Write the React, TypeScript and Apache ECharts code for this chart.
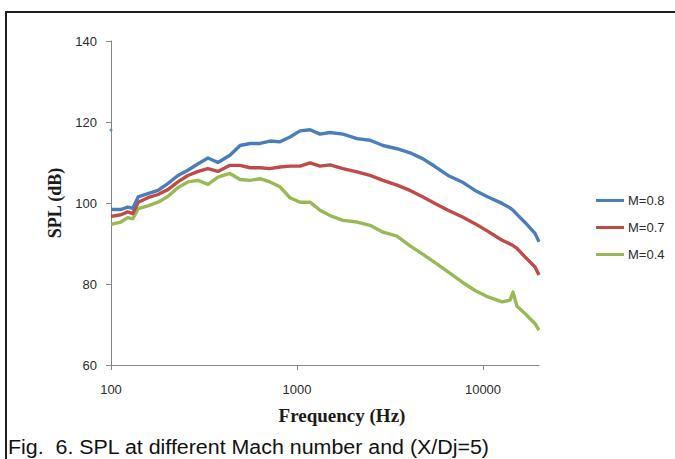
import React, { useEffect, useRef } from "react";
import * as echarts from "echarts";

// Frequency grid (Hz) shared by the three spectra
const frequencies = [
  100, 113, 123, 131, 140, 158, 179, 202, 229, 259,
  294, 332, 376, 436, 494, 559, 633, 716, 810, 917,
  1038, 1175, 1330, 1505, 1767, 2102, 2470, 2901, 3448, 4051,
  4759, 5521, 6484, 7713, 9059, 10640, 12660, 13970, 14500, 15230,
  16820, 19040, 20000,
];

// SPL (dB) for each Mach number
const splM08 = [
  98.4, 98.4, 99.0, 98.7, 101.5, 102.3, 103.1, 104.8, 106.8, 108.1,
  109.7, 111.1, 110.0, 111.8, 114.2, 114.7, 114.7, 115.3, 115.1, 116.3,
  117.8, 118.1, 117.0, 117.4, 117.0, 115.9, 115.5, 114.2, 113.4, 112.4,
  110.9, 109.0, 106.8, 105.2, 103.1, 101.5, 99.9, 98.8, 98.2, 97.2,
  95.2, 92.5, 90.4,
];
const splM07 = [
  96.7, 97.1, 97.8, 97.4, 100.2, 101.3, 102.1, 103.3, 105.2, 106.8,
  107.8, 108.5, 107.8, 109.3, 109.3, 108.7, 108.7, 108.5, 108.9, 109.1,
  109.1, 109.9, 109.1, 109.4, 108.5, 107.7, 106.8, 105.6, 104.4, 103.1,
  101.5, 99.9, 98.2, 96.6, 94.9, 93.0, 90.8, 89.9, 89.5, 88.8,
  86.7, 84.2, 82.2,
];
const splM04 = [
  94.7, 95.3, 96.4, 96.1, 98.6, 99.3, 100.2, 101.6, 103.8, 105.2,
  105.6, 104.6, 106.4, 107.3, 105.8, 105.6, 106.0, 105.2, 104.0, 101.3,
  100.2, 100.2, 98.2, 96.9, 95.7, 95.3, 94.5, 92.8, 91.8, 89.4,
  87.3, 85.3, 83.0, 80.5, 78.4, 76.8, 75.6, 76.0, 78.0, 74.5,
  72.7, 70.2, 68.6,
];

// Isolated first sample of the M=0.8 record
const strayM08 = [[100, 118]];

const seriesNames = ["M=0.8", "M=0.7", "M=0.4"];
const seriesColors = ["#4a7ebb", "#be4b48", "#98b954"];
const yTicks = { min: 60, max: 140, interval: 20 };
const xRange = { min: 100, max: 20000 };

const axisLabelColor = "#2b2b2b";
const axisLineColor = "#868686";

export default function App() {
  const ref = useRef<HTMLDivElement>(null);

  useEffect(() => {
    if (!ref.current) return;
    const chart = echarts.init(ref.current, undefined, { renderer: "svg" });
    const values = [splM08, splM07, splM04];

    const isDecade = (v: number) => {
      const l = Math.log10(v);
      return Math.abs(l - Math.round(l)) < 1e-6;
    };

    chart.setOption({
      animation: false,
      backgroundColor: "#ffffff",
      grid: { left: 111, right: 136, top: 41, bottom: 94, containLabel: false },
      legend: {
        data: seriesNames,
        orient: "vertical",
        left: 591,
        top: 189,
        itemWidth: 28,
        itemHeight: 3,
        itemGap: 14,
        itemStyle: { borderWidth: 0 },
        icon: "rect",
        textStyle: {
          fontFamily: "Liberation Sans",
          fontSize: 13,
          color: axisLabelColor,
          padding: [0, 0, 0, -1],
        },
      },
      xAxis: {
        type: "log",
        logBase: 10,
        min: xRange.min,
        max: xRange.max,
        name: "Frequency (Hz)",
        nameLocation: "middle",
        nameGap: 41,
        nameTextStyle: {
          fontFamily: "Liberation Serif",
          fontWeight: "bold",
          fontSize: 19,
          color: "#1a1a1a",
          padding: [0, 0, 0, 34],
        },
        axisLine: { show: true, lineStyle: { color: axisLineColor, width: 1 } },
        axisTick: { show: true, inside: false, length: 5, lineStyle: { color: axisLineColor } },
        minorTick: { show: false },
        splitLine: { show: false },
        axisLabel: {
          margin: 18,
          fontFamily: "Liberation Sans",
          fontSize: 13,
          color: axisLabelColor,
          showMaxLabel: false,
          formatter: (v: number) => (isDecade(v) ? String(Math.round(v)) : ""),
        },
      },
      yAxis: {
        type: "value",
        min: yTicks.min,
        max: yTicks.max,
        interval: yTicks.interval,
        name: "SPL (dB)",
        nameLocation: "middle",
        nameGap: 42,
        nameTextStyle: {
          fontFamily: "Liberation Serif",
          fontWeight: "bold",
          fontSize: 18,
          color: "#1a1a1a",
        },
        axisLine: { show: true, lineStyle: { color: axisLineColor, width: 1 } },
        axisTick: { show: true, inside: false, length: 5, lineStyle: { color: axisLineColor } },
        splitLine: { show: false },
        axisLabel: {
          margin: 14,
          fontFamily: "Liberation Sans",
          fontSize: 13,
          color: axisLabelColor,
        },
      },
      series: [
        ...seriesNames.map((name, i) => ({
          name,
          type: "line",
          data: frequencies.map((f, j) => [f, values[i][j]]),
          showSymbol: false,
          symbol: "none",
          color: seriesColors[i],
          lineStyle: { width: 3.4, color: seriesColors[i], join: "round" },
          z: 3 - i,
        })),
        {
          name: "M=0.8 start",
          type: "scatter",
          data: strayM08,
          symbol: "circle",
          symbolSize: 3,
          itemStyle: { color: seriesColors[0] },
          z: 4,
        },
      ],
      graphic: [
        {
          type: "rect",
          shape: { x: 6, y: 12, width: 720, height: 480 },
          style: { fill: "none", stroke: "#1e1e1e", lineWidth: 2 },
          silent: true,
        },
        {
          type: "text",
          x: 8,
          y: 457,
          scaleX: 1.07,
          style: {
            text: "Fig.  6. SPL at different Mach number and (X/Dj=5)",
            fontFamily: "Liberation Sans",
            fontSize: 20,
            fill: "#111111",
            verticalAlign: "bottom",
          },
        },
      ],
    });

    return () => chart.dispose();
  }, []);

  return (
    <div
      ref={ref}
      style={{ position: "fixed", left: 0, top: 0, width: 675, height: 459, background: "#fff" }}
    />
  );
}
